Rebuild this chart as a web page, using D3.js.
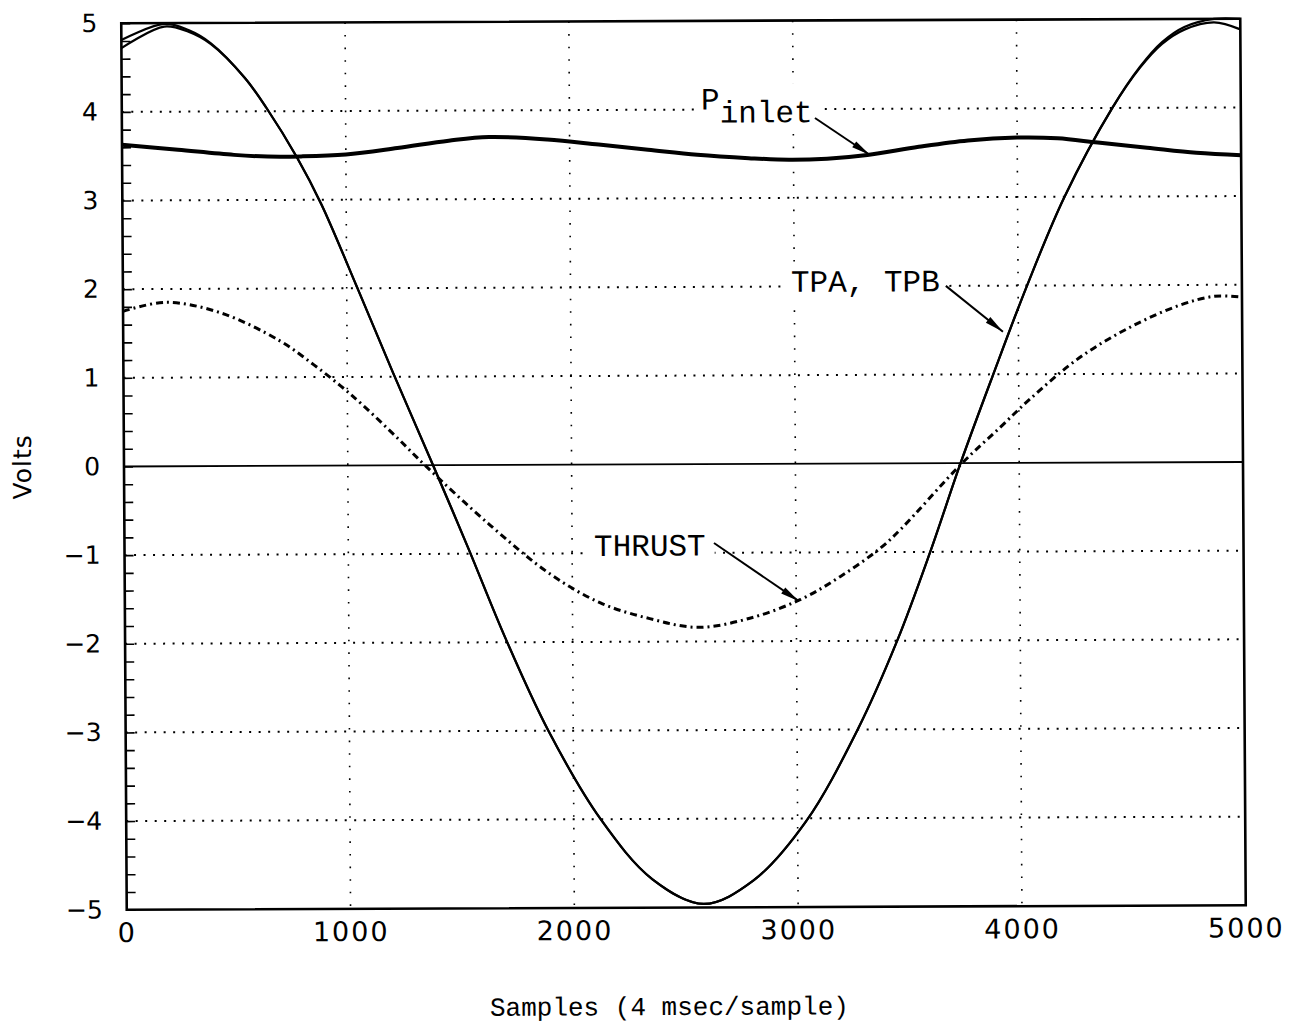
<!DOCTYPE html>
<html>
<head>
<meta charset="utf-8">
<script src="https://cdn.jsdelivr.net/npm/d3@7"></script>
<style>
  html, body { margin: 0; padding: 0; background: #fff; }
  svg { display: block; }
</style>
</head>
<body>
<svg id="chart" width="1289" height="1027"></svg>
<script>
// Sample index (4 msec per sample) and signal voltages
const tpaSamples = [0, 192, 300, 400, 550, 646, 781, 889, 1045, 1204, 1381, 1535, 1699, 1889, 2120, 2350, 2578, 2800, 3036, 3271, 3450, 3600, 3738, 3882, 4040, 4210, 4426, 4550, 4650, 4750, 4883, 5000];
const tpaVolts   = [4.72, 4.96, 4.90, 4.76, 4.38, 4.04, 3.48, 2.95, 2.02, 1.05, 0.00, -0.93, -1.95, -3.00, -4.00, -4.68, -4.96, -4.70, -4.04, -3.00, -2.00, -1.00, 0.00, 0.97, 2.00, 3.00, 4.00, 4.45, 4.72, 4.88, 4.96, 4.88];

const tpbSamples = [0, 192, 300, 400, 550, 646, 781, 889, 1045, 1204, 1381, 1535, 1699, 1889, 2120, 2350, 2578, 2800, 3036, 3271, 3450, 3600, 3738, 3882, 4040, 4210, 4426, 4550, 4650, 4750, 4883, 5000];
const tpbVolts   = [4.81, 4.99, 4.92, 4.77, 4.38, 4.04, 3.48, 2.95, 2.02, 1.05, 0.00, -0.93, -1.95, -3.00, -4.00, -4.68, -4.96, -4.70, -4.04, -3.00, -2.00, -1.00, 0.00, 0.97, 2.00, 3.00, 4.00, 4.46, 4.74, 4.91, 5.00, 5.00];

const inletSamples = [0, 250, 500, 650, 800, 1000, 1230, 1460, 1640, 1900, 2130, 2350, 2570, 2800, 2980, 3150, 3330, 3560, 3780, 4000, 4180, 4360, 4580, 4800, 5000];
const inletVolts   = [3.63, 3.57, 3.51, 3.49, 3.49, 3.51, 3.58, 3.66, 3.70, 3.67, 3.61, 3.55, 3.49, 3.45, 3.43, 3.44, 3.48, 3.57, 3.64, 3.67, 3.66, 3.61, 3.55, 3.49, 3.46];

const thrustSamples = [0, 190, 435, 700, 850, 970, 1065, 1230, 1345, 1635, 1900, 2125, 2345, 2560, 2792, 3020, 3200, 3380, 3470, 3745, 3915, 4050, 4270, 4495, 4720, 4875, 5000];
const thrustVolts   = [1.75, 1.85, 1.73, 1.41, 1.14, 0.90, 0.69, 0.29, 0.00, -0.68, -1.23, -1.56, -1.74, -1.84, -1.74, -1.53, -1.27, -0.95, -0.74, 0.00, 0.40, 0.72, 1.18, 1.52, 1.77, 1.87, 1.86];

const xTickValues = [0, 1000, 2000, 3000, 4000, 5000];
const yTickValues = [-5, -4, -3, -2, -1, 0, 1, 2, 3, 4, 5];

const svg = d3.select("#chart");
svg.append("rect").attr("width", 1289).attr("height", 1027).attr("fill", "#fff");

const x = d3.scaleLinear().domain([0, 5000]).range([124, 1243]);
const y = d3.scaleLinear().domain([-5, 5]).range([907.5, 21]);

// the plotted sheet sits very slightly askew
const g = svg.append("g").attr("transform", "matrix(1,-0.004,0.0062,1,-2.88,2.73)");

const mono = "'Liberation Mono', 'Courier New', Courier, monospace";
const sans = "'DejaVu Sans', Verdana, sans-serif";

// dotted grid
g.append("g").selectAll("line")
  .data(yTickValues.filter(v => v !== 0 && Math.abs(v) !== 5))
  .join("line")
  .attr("x1", x(0)).attr("x2", x(5000))
  .attr("y1", d => y(d)).attr("y2", d => y(d))
  .attr("stroke", "#000").attr("stroke-width", 2)
  .attr("stroke-dasharray", "2 7.5");

g.append("g").selectAll("line")
  .data(xTickValues.filter(v => v > 0 && v < 5000))
  .join("line")
  .attr("x1", d => x(d)).attr("x2", d => x(d))
  .attr("y1", y(5)).attr("y2", y(-5))
  .attr("stroke", "#000").attr("stroke-width", 1.6)
  .attr("stroke-dasharray", "1.6 11");

// zero reference
g.append("line")
  .attr("x1", x(0)).attr("x2", x(5000))
  .attr("y1", y(0)).attr("y2", y(0))
  .attr("stroke", "#000").attr("stroke-width", 1.8);

// inward minor ticks on the volts axis
const minorTicks = d3.range(-5, 5.001, 0.2).map(v => Math.round(v * 10) / 10);
g.append("g")
  .attr("transform", `translate(${x(0)},0)`)
  .call(d3.axisRight(y).tickValues(minorTicks).tickSize(9).tickFormat(""))
  .call(s => s.select(".domain").remove())
  .call(s => s.selectAll(".tick line").attr("stroke-width", 1.6));

// tick labels
const fmt = d => d < 0 ? "\u2212" + Math.abs(d) : String(d);
g.append("g")
  .attr("transform", `translate(${x(0)},0)`)
  .call(d3.axisLeft(y).tickValues(yTickValues).tickSize(0).tickPadding(24).tickFormat(fmt))
  .call(s => s.select(".domain").remove())
  .call(s => s.selectAll("text")
    .attr("font-family", sans).attr("font-size", 25).attr("fill", "#000"));

g.append("g")
  .attr("transform", `translate(0,${y(-5)})`)
  .call(d3.axisBottom(x).tickValues(xTickValues).tickSize(0).tickPadding(13).tickFormat(d => String(d)))
  .call(s => s.select(".domain").remove())
  .call(s => s.selectAll("text")
    .attr("font-family", sans).attr("font-size", 27).attr("letter-spacing", 2).attr("fill", "#000"));

// series
const lineOf = (ts, vs) => d3.line()
  .x((d, i) => x(ts[i]))
  .y(d => y(d))
  .curve(d3.curveCatmullRom.alpha(0.5))(vs);

const plot = g.append("g");
plot.append("path").attr("d", lineOf(inletSamples, inletVolts))
  .attr("fill", "none").attr("stroke", "#000").attr("stroke-width", 4).attr("stroke-linejoin", "round");
plot.append("path").attr("d", lineOf(thrustSamples, thrustVolts))
  .attr("fill", "none").attr("stroke", "#000").attr("stroke-width", 3)
  .attr("stroke-dasharray", "7 4 2 4");
plot.append("path").attr("d", lineOf(tpaSamples, tpaVolts))
  .attr("fill", "none").attr("stroke", "#000").attr("stroke-width", 2.2);
plot.append("path").attr("d", lineOf(tpbSamples, tpbVolts))
  .attr("fill", "none").attr("stroke", "#000").attr("stroke-width", 2.2);

// frame
g.append("rect")
  .attr("x", x(0)).attr("y", y(5))
  .attr("width", x(5000) - x(0)).attr("height", y(-5) - y(5))
  .attr("fill", "none").attr("stroke", "#000").attr("stroke-width", 2.6);

// annotations with arrows
svg.append("defs").append("marker")
  .attr("id", "head").attr("markerUnits", "userSpaceOnUse")
  .attr("markerWidth", 24).attr("markerHeight", 12)
  .attr("refX", 0).attr("refY", 0).attr("orient", "auto")
  .attr("viewBox", "-22 -6 24 12")
  .append("path").attr("d", "M0,0 L-19,-3.6 L-19,3.6 Z").attr("fill", "#000");

const notes = [
  { text: "P", sub: "inlet", t: 2588, v: 4.0,  from: [3097, 3.90], to: [3342, 3.48] },
  { text: "TPA, TPB",        t: 2985, v: 1.94, from: [3677, 2.00], to: [3931, 1.48] },
  { text: "THRUST",          t: 2098, v: -1.03, from: [2634, -0.89], to: [3012, -1.55] }
];

const noteLayer = g.append("g");
notes.forEach(n => {
  const grp = noteLayer.append("g");
  const txt = grp.append("text")
    .attr("x", x(n.t)).attr("y", y(n.v))
    .attr("font-family", mono).attr("font-size", 31).attr("fill", "#000");
  txt.append("tspan").text(n.text);
  if (n.sub) txt.append("tspan").attr("dy", 13).text(n.sub);
  const bb = txt.node().getBBox();
  grp.insert("rect", "text")
    .attr("x", bb.x - 7).attr("y", bb.y)
    .attr("width", bb.width + 16).attr("height", bb.height)
    .attr("fill", "#fff");
  noteLayer.append("line")
    .attr("x1", x(n.from[0])).attr("y1", y(n.from[1]))
    .attr("x2", x(n.to[0])).attr("y2", y(n.to[1]))
    .attr("stroke", "#000").attr("stroke-width", 2)
    .attr("marker-end", "url(#head)");
});

// axis titles
g.append("text")
  .attr("transform", `translate(31,${y(0)}) rotate(-90)`)
  .attr("text-anchor", "middle")
  .attr("font-family", sans).attr("font-size", 25).attr("letter-spacing", 1)
  .attr("fill", "#000")
  .text("Volts");

g.append("text")
  .attr("x", 666).attr("y", 1015)
  .attr("text-anchor", "middle")
  .attr("font-family", mono).attr("font-size", 26).attr("fill", "#000")
  .text("Samples (4 msec/sample)");
</script>
</body>
</html>
